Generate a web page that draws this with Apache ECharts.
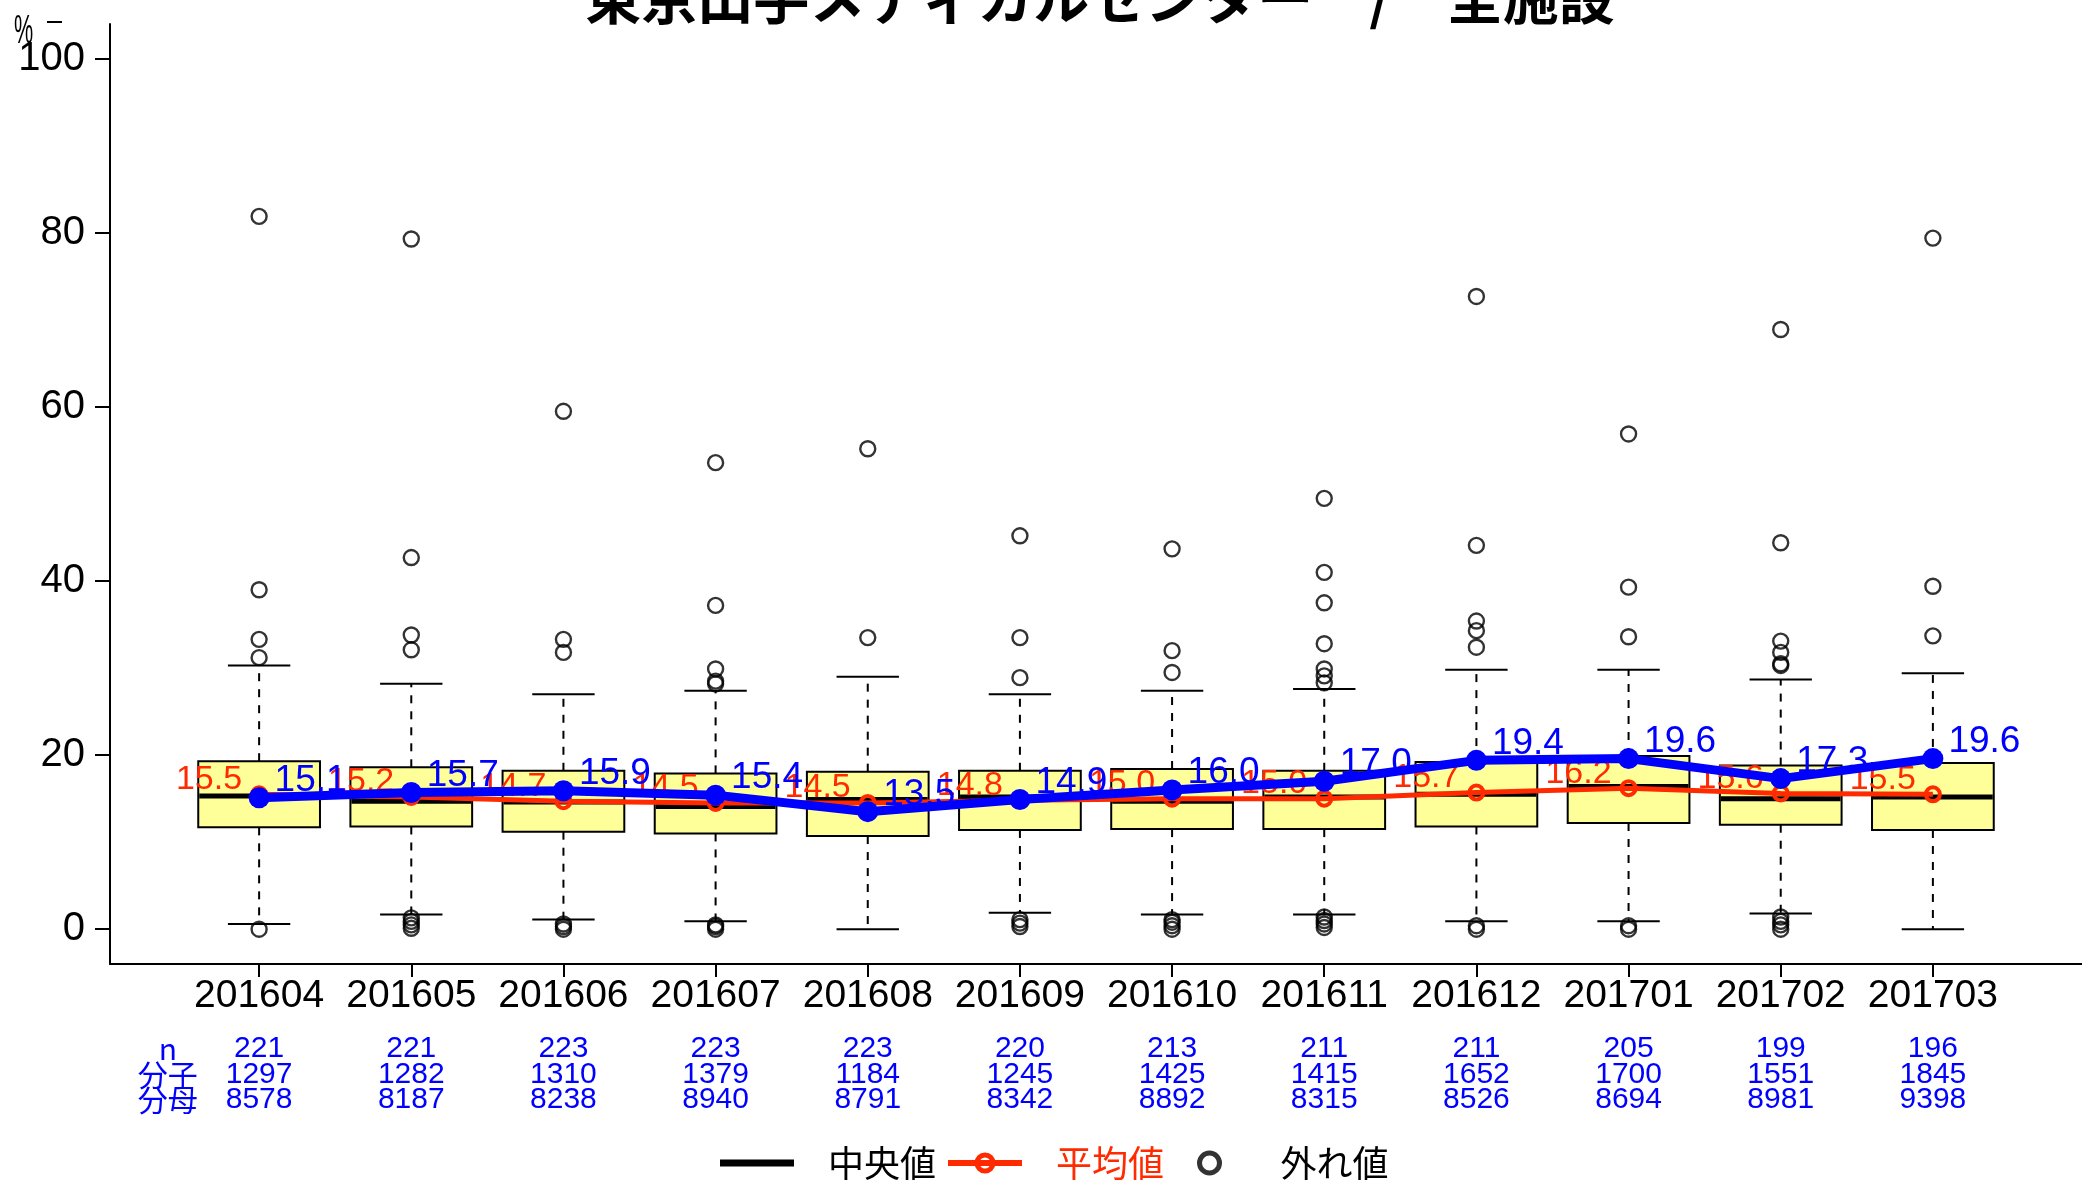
<!DOCTYPE html>
<html><head><meta charset="utf-8">
<script src="https://cdn.jsdelivr.net/npm/echarts@6/dist/echarts.min.js"></script>
<style>html,body{margin:0;padding:0;background:#fff}#c{width:2082px;height:1183px}</style>
</head><body><div id="c"></div><script>
const titleText = '東京山手メディカルセンター　/　全施設';
const months = ['201604','201605','201606','201607','201608','201609','201610','201611','201612','201701','201702','201703'];
const nCount = [221,221,223,223,223,220,213,211,211,205,199,196];
const numer = [1297,1282,1310,1379,1184,1245,1425,1415,1652,1700,1551,1845];
const denom = [8578,8187,8238,8940,8791,8342,8892,8315,8526,8694,8981,9398];
const lowWhisker = [0.6,1.7,1.1,0.9,0.0,1.9,1.7,1.7,0.9,0.9,1.8,0.0];
const q1 = [11.7,11.8,11.2,11.0,10.7,11.4,11.5,11.5,11.8,12.2,12.0,11.4];
const medianV = [15.3,14.7,14.6,14.1,14.9,15.2,14.7,15.2,15.5,16.4,15.0,15.2];
const q3 = [19.3,18.6,18.2,17.9,18.1,18.2,18.4,18.2,19.2,19.9,18.8,19.1];
const highWhisker = [30.3,28.2,27.0,27.4,29.0,27.0,27.4,27.6,29.8,29.8,28.7,29.4];
const outliers = [
  [81.9,39.0,33.3,31.2,0.0],
  [79.3,42.7,33.8,32.1,1.3,0.9,0.5,0.1],
  [59.5,33.3,31.8,0.6,0.3,0.0],
  [53.6,37.2,29.9,28.5,28.2,0.5,0.3,0.0],
  [55.2,33.5],
  [45.2,33.5,28.9,1.1,0.7,0.3],
  [43.7,32.0,29.5,1.1,0.8,0.4,0.0],
  [49.5,41.0,37.5,32.8,29.9,29.1,28.3,1.4,1.0,0.6,0.2],
  [72.7,44.1,35.4,34.3,32.4,0.4,0.0],
  [56.9,39.3,33.6,0.4,0.0],
  [68.9,44.4,33.1,31.8,30.5,30.3,1.4,0.9,0.5,0.0],
  [79.4,39.4,33.7]
];
const meanV = [15.5,15.2,14.7,14.5,14.5,14.8,15.0,15.0,15.7,16.2,15.6,15.5];
const facilityV = [15.1,15.7,15.9,15.4,13.5,14.9,16.0,17.0,19.4,19.6,17.3,19.6];
const yTicks = [0,20,40,60,80,100];
const rowHeaders = ['n','分子','分母'];

const NUM_FONT = "'Liberation Sans', Arial, 'Noto Sans CJK JP', sans-serif";
const CJK_FONT = "'Noto Sans CJK JP', 'Liberation Sans', sans-serif";
const RED = '#ff2a00';
const BLUE = '#0000ff';
const xPos = months.map((_, i) => i + 1);
const headerPos = 0.4;
const X_MIN = 0.02, X_MAX = 12.98;

const boxData = months.map((_, i) => [xPos[i], lowWhisker[i], q1[i], medianV[i], q3[i], highWhisker[i]]);
const outlierData = [];
outliers.forEach((arr, i) => arr.forEach(v => outlierData.push([xPos[i], v])));
const meanData = meanV.map((v, i) => [xPos[i], v]);
const facData = facilityV.map((v, i) => [xPos[i], v]);

function renderBox(params, api) {
  const x = api.value(0);
  const lo = api.value(1), a = api.value(2), m = api.value(3), b = api.value(4), hi = api.value(5);
  const halfW = 0.4, capW = 0.205;
  const cx = api.coord([x, 0])[0];
  const xl = api.coord([x - halfW, 0])[0], xr = api.coord([x + halfW, 0])[0];
  const cl = api.coord([x - capW, 0])[0], cr = api.coord([x + capW, 0])[0];
  const yv = v => api.coord([x, v])[1];
  const dash = {stroke: '#000', lineWidth: 2, lineDash: [8, 8]};
  const solid = {stroke: '#000', lineWidth: 2};
  return {type: 'group', children: [
    {type: 'line', shape: {x1: cx, y1: yv(b), x2: cx, y2: yv(hi)}, style: dash},
    {type: 'line', shape: {x1: cx, y1: yv(a), x2: cx, y2: yv(lo)}, style: dash},
    {type: 'line', shape: {x1: cl, y1: yv(hi), x2: cr, y2: yv(hi)}, style: solid},
    {type: 'line', shape: {x1: cl, y1: yv(lo), x2: cr, y2: yv(lo)}, style: solid},
    {type: 'rect', shape: {x: xl, y: yv(b), width: xr - xl, height: yv(a) - yv(b)}, style: {fill: '#ffff99', stroke: '#000', lineWidth: 2}},
    {type: 'line', shape: {x1: xl + 1, y1: yv(m), x2: xr - 1, y2: yv(m)}, style: {stroke: '#000', lineWidth: 5}}
  ]};
}

const richStyles = {
  m: {fontSize: 39, lineHeight: 44, color: '#000', fontFamily: NUM_FONT},
  g: {fontSize: 10, lineHeight: 18},
  b: {fontSize: 30, lineHeight: 25.5, color: BLUE, fontFamily: NUM_FONT},
  h: {fontSize: 30, lineHeight: 25.5, color: BLUE, fontFamily: CJK_FONT}
};

const chart = echarts.init(document.getElementById('c'), null, {renderer: 'canvas'});
chart.setOption({
  animation: false,
  backgroundColor: '#fff',
  graphic: [
    {type: 'text', x: 1100, y: -30, z: 100, style: {text: titleText, font: "bold 56px 'Noto Sans CJK JP'", fill: '#000', align: 'center', verticalAlign: 'top'}},
    {type: 'text', x: 14, y: 11, scaleX: 0.72, scaleY: 1.38, style: {text: '%', font: "30px 'Liberation Sans'", fill: '#000', align: 'left', verticalAlign: 'top'}},
    {type: 'line', shape: {x1: 47, y1: 22, x2: 62, y2: 22}, style: {stroke: '#000', lineWidth: 2}}
  ],
  grid: {left: 110, right: 0, top: 24, bottom: 219, outerBoundsMode: 'none', containLabel: false},
  legend: [
    {
      left: 720, top: 1145, padding: 0,
      itemWidth: 74, itemHeight: 20, itemGap: 9,
      textStyle: {fontSize: 36, color: '#000', fontFamily: CJK_FONT, padding: [0, 0, 0, 29]},
      data: [
        {name: '中央値', icon: 'path://M0 0H74V7H0Z', itemStyle: {color: '#000'}},
        {name: '平均値', textStyle: {color: RED}, lineStyle: {width: 6, color: RED},
         itemStyle: {color: 'rgba(0,0,0,0)', borderColor: RED, borderWidth: 5}}
      ]
    },
    {
      left: 1197, top: 1145, padding: 0,
      itemWidth: 20, itemHeight: 20,
      textStyle: {fontSize: 36, color: '#000', fontFamily: CJK_FONT, padding: [0, 0, 0, 56]},
      data: [
        {name: '外れ値', icon: 'circle', itemStyle: {borderWidth: 5, color: 'rgba(0,0,0,0)', borderColor: '#000'}}
      ]
    }
  ],
  xAxis: [
    {
      type: 'value', min: X_MIN, max: X_MAX,
      axisLine: {show: true, onZero: false, lineStyle: {color: '#000', width: 2}},
      axisTick: {show: true, length: 13, lineStyle: {color: '#000', width: 2}, customValues: xPos},
      splitLine: {show: false},
      axisLabel: {
        customValues: xPos,
        margin: 10,
        formatter: function (v) {
          const i = Math.round(v) - 1;
          return '{m|' + months[i] + '}\n{g| }\n{b|' + nCount[i] + '}\n{b|' + numer[i] + '}\n{b|' + denom[i] + '}';
        },
        rich: richStyles
      }
    },
    {
      type: 'value', min: X_MIN, max: X_MAX, position: 'bottom',
      axisLine: {show: false, onZero: false},
      axisTick: {show: false},
      splitLine: {show: false},
      axisLabel: {
        customValues: [headerPos],
        margin: 10,
        formatter: function () {
          return '{m| }\n{g| }\n{h|' + rowHeaders[0] + '}\n{h|' + rowHeaders[1] + '}\n{h|' + rowHeaders[2] + '}';
        },
        rich: richStyles
      }
    }
  ],
  yAxis: {
    type: 'value', min: -4, max: 104,
    axisLine: {show: true, onZero: false, lineStyle: {color: '#000', width: 2}},
    axisTick: {show: true, length: 15, lineStyle: {color: '#000', width: 2}, customValues: yTicks},
    splitLine: {show: false},
    axisLabel: {customValues: yTicks, margin: 25, fontSize: 40, color: '#000', fontFamily: NUM_FONT}
  },
  series: [
    {type: 'custom', name: 'box', renderItem: renderBox, data: boxData, encode: {x: 0, y: [1, 2, 3, 4, 5]}, z: 2},
    {type: 'scatter', name: '外れ値', data: outlierData, symbol: 'circle', symbolSize: 15, z: 3,
     itemStyle: {color: 'rgba(0,0,0,0)', borderColor: '#000', borderWidth: 2.4}},
    {type: 'line', name: '中央値', data: [], symbol: 'none', lineStyle: {color: '#000', width: 6}, itemStyle: {color: '#000'}},
    {type: 'line', name: '平均値', data: meanData, z: 4, symbol: 'circle', symbolSize: 14,
     lineStyle: {color: RED, width: 5},
     itemStyle: {color: 'rgba(0,0,0,0)', borderColor: RED, borderWidth: 4},
     label: {show: true, position: 'left', distance: 8, offset: [0, -15], fontSize: 34, color: RED, fontFamily: NUM_FONT,
             formatter: p => p.value[1].toFixed(1)}},
    {type: 'line', name: '施設', data: facData, z: 5, symbol: 'circle', symbolSize: 21,
     lineStyle: {color: BLUE, width: 9},
     itemStyle: {color: BLUE},
     label: {show: true, position: 'right', distance: 5, offset: [0, -17], fontSize: 37, color: BLUE, fontFamily: NUM_FONT,
             formatter: p => p.value[1].toFixed(1)}}
  ]
});
</script></body></html>
